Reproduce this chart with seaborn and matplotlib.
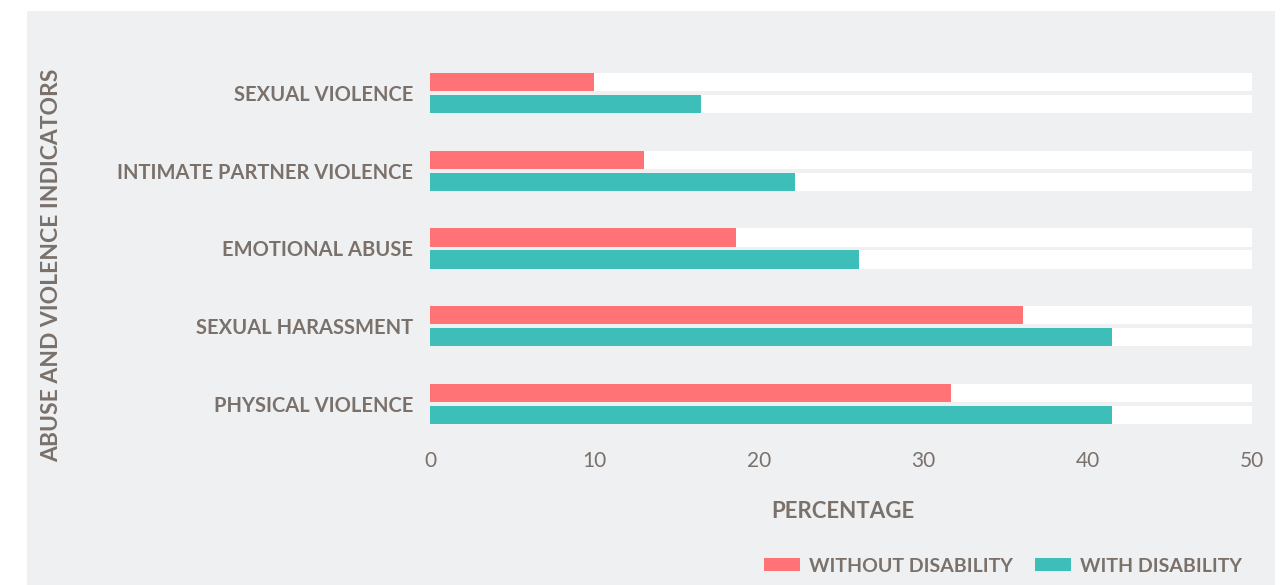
import pandas as pd
import numpy as np
import matplotlib.pyplot as plt
import seaborn as sns
from matplotlib.patches import Rectangle

# data
indicators = ['SEXUAL VIOLENCE', 'INTIMATE PARTNER VIOLENCE', 'EMOTIONAL ABUSE',
              'SEXUAL HARASSMENT', 'PHYSICAL VIOLENCE']
without_disability = [10.0, 13.0, 18.6, 36.1, 31.7]
with_disability = [16.5, 22.2, 26.1, 41.5, 41.5]
groups = ['WITHOUT DISABILITY', 'WITH DISABILITY']
x_ticks = [0, 10, 20, 30, 40, 50]
x_max = 50

PINK = '#ff7276'
TEAL = '#3dbeb9'
PANEL = '#eff0f2'
TEXT = '#7b716b'

df = pd.DataFrame({
    'indicator': indicators * 2,
    'group': [groups[0]] * len(indicators) + [groups[1]] * len(indicators),
    'value': without_disability + with_disability,
})
track = df.assign(value=x_max)

sns.set_theme(style='white')
plt.rcParams['font.family'] = ['Lato', 'DejaVu Sans']

fig = plt.figure(figsize=(12.83, 5.85), dpi=100, facecolor='white')
W, H = 1283, 585
# grey panel behind everything
fig.patches.append(Rectangle((27 / W, 0), (1275 - 27) / W, 1 - 11 / H,
                             transform=fig.transFigure, facecolor=PANEL,
                             edgecolor='none', zorder=-5))

ax = fig.add_axes([430 / W, 1 - 443 / H, (1252 - 430) / W, (443 - 54) / H])
ax.set_facecolor('none')
ax.set_zorder(2)

bar_kw = dict(x='value', y='indicator', hue='group', order=indicators,
              hue_order=groups, orient='h', width=0.57, gap=0.18, saturation=1,
              edgecolor='none', linewidth=0, legend=False, ax=ax)
sns.barplot(data=track, palette=['white', 'white'], **bar_kw)
sns.barplot(data=df, palette=[PINK, TEAL], **bar_kw)

ax.set_xlim(0, x_max)
ax.set_ylim(len(indicators) - 0.5, -0.5)
ax.set_xticks(x_ticks)
ax.set_xticklabels([str(t) for t in x_ticks])
ax.tick_params(axis='x', length=0, pad=6, labelsize=15, labelcolor=TEXT)
ax.tick_params(axis='y', length=0, pad=12, labelsize=14.5, labelcolor=TEXT)
for lab in ax.get_yticklabels():
    lab.set_fontweight('bold')
ax.set_xlabel('')
ax.set_ylabel('')
sns.despine(ax=ax, left=True, bottom=True)

fig.text(843 / W, 1 - 511 / H, 'PERCENTAGE', ha='center', va='center',
         fontsize=16, fontweight='bold', color=TEXT)
fig.text(52 / W, 1 - 265 / H, 'ABUSE AND VIOLENCE INDICATORS', ha='center',
         va='center', rotation=90, fontsize=16.5, fontweight='bold', color=TEXT)

handles = [Rectangle((0, 0), 1, 1, facecolor=c, edgecolor='none') for c in (PINK, TEAL)]
leg = fig.legend(handles, groups, loc='center right',
                 bbox_to_anchor=(1252 / W, 1 - 566 / H), ncol=2, frameon=False,
                 borderpad=0, fontsize=14, handlelength=1.85, handleheight=0.68,
                 handletextpad=0.5, columnspacing=1.1)
for t in leg.get_texts():
    t.set_color(TEXT)
    t.set_fontweight('bold')

fig.savefig('out.png', dpi=100, facecolor='white')
